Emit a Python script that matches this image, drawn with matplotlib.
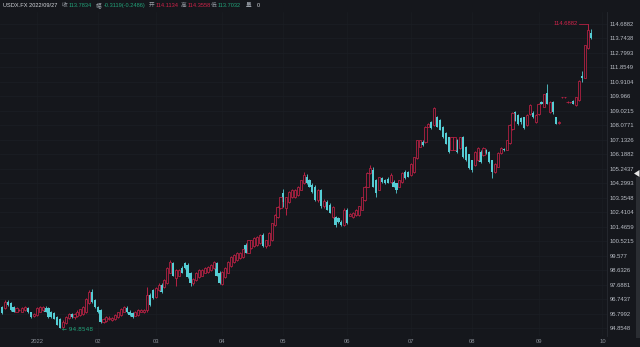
import numpy as np
import pandas as pd
import matplotlib
matplotlib.use("Agg")
import matplotlib.pyplot as plt
from matplotlib.patches import Polygon, Rectangle

W, H = 640, 347
BG = "#15171c"
RED = "#d0234a"
TEAL = "#55cdd4"
GREEN = "#22a47a"
GRID = "#1c1f25"

plt.rcParams["font.family"] = ["Liberation Sans", "Noto Sans CJK SC", "DejaVu Sans"]

# daily candles, 2021-12-16 .. 2022-09-27 (business days)
opens = [
    96.25, 96.20, 96.60, 96.50, 96.25, 95.95, 96.03, 95.95, 96.05, 96.20,
    95.90, 95.65, 95.75, 95.95, 96.05, 96.20, 96.20, 95.95, 95.85, 95.60,
    95.50, 94.95, 95.20, 95.55, 95.80, 95.60, 95.65, 95.75, 95.80, 95.95,
    96.50, 97.20, 96.70, 96.25, 96.05, 95.30, 95.35, 95.45, 95.40, 95.45,
    95.60, 95.75, 95.95, 96.20, 95.95, 95.85, 95.70, 95.75, 95.95, 95.90,
    96.05, 97.05, 97.35, 96.90, 97.35, 97.70, 97.55, 97.80, 98.50, 99.10,
    98.15, 98.30, 98.80, 99.10, 99.00, 98.50, 97.80, 98.00, 98.20, 98.30,
    98.50, 98.55, 98.65, 98.80, 99.10, 98.50, 97.75, 98.20, 98.50, 98.90,
    99.20, 99.30, 99.45, 99.50, 100.30, 99.80, 100.10, 100.20, 100.30, 100.40,
    100.95, 100.20, 100.30, 100.60, 101.60, 102.10, 102.70, 103.70, 102.70, 103.10,
    103.40, 103.40, 103.55, 103.90, 104.30, 104.70, 104.50, 104.20, 104.10, 103.20,
    103.85, 102.80, 103.10, 102.90, 102.10, 102.10, 102.05, 101.80, 101.60, 102.60,
    102.20, 102.10, 102.25, 102.25, 102.60, 103.20, 104.10, 105.00, 105.20, 104.50,
    103.90, 104.65, 104.50, 104.60, 104.40, 104.40, 104.30, 104.10, 104.40, 105.05,
    105.05, 104.85, 105.05, 105.95, 106.70, 107.00, 107.00, 108.00, 108.30, 108.10,
    108.60, 108.45, 108.00, 107.60, 107.30, 106.50, 106.50, 107.10, 106.60, 107.30,
    106.70, 106.20, 105.80, 105.50, 105.80, 106.35, 106.15, 106.50, 106.35, 105.80,
    105.05, 105.40, 106.30, 106.55, 106.50, 106.95, 107.85, 108.95, 108.75, 108.55,
    108.60, 108.10, 108.80, 108.90, 108.30, 108.80, 109.60, 109.30, 110.20, 108.95,
    109.60, 108.60, 108.25, 109.90, 109.90, 109.60, 109.60, 109.70, 109.40, 109.75,
    111.30, 111.20, 113.10, 114.1134,
]
highs = [
    96.35, 96.70, 96.70, 96.60, 96.30, 96.25, 96.12, 96.25, 96.30, 96.28,
    95.95, 95.85, 96.25, 96.30, 96.32, 96.30, 96.25, 96.00, 95.90, 95.65,
    95.55, 95.40, 95.65, 95.85, 95.85, 95.85, 96.05, 96.15, 96.30, 96.85,
    97.36, 97.40, 96.80, 96.35, 96.10, 95.55, 95.65, 95.65, 95.60, 95.80,
    95.95, 96.20, 96.35, 96.30, 96.05, 95.90, 96.00, 96.10, 96.10, 96.15,
    97.55, 97.15, 97.45, 97.55, 97.80, 97.80, 98.05, 98.85, 99.30, 99.20,
    98.70, 98.70, 98.90, 99.20, 99.10, 98.55, 98.15, 98.55, 98.70, 98.75,
    98.85, 98.95, 99.05, 99.25, 99.20, 98.60, 98.60, 98.85, 99.25, 99.55,
    99.70, 99.85, 99.85, 100.05, 100.40, 100.65, 100.65, 100.80, 100.85, 101.00,
    101.05, 100.65, 101.15, 101.75, 102.30, 102.80, 103.45, 103.95, 103.45, 103.80,
    103.95, 103.95, 104.15, 104.55, 105.05, 104.90, 104.60, 104.30, 104.20, 103.95,
    103.95, 103.30, 103.20, 103.00, 102.80, 102.20, 102.10, 101.90, 102.70, 102.70,
    102.35, 102.45, 102.65, 102.85, 103.45, 104.15, 105.05, 105.50, 105.40, 104.60,
    104.75, 104.75, 104.60, 104.70, 104.95, 104.50, 104.35, 104.55, 105.05, 105.15,
    105.10, 105.65, 106.05, 107.15, 107.15, 107.10, 108.05, 108.25, 108.40, 109.30,
    108.70, 108.50, 108.05, 107.65, 107.35, 107.35, 107.35, 107.20, 107.35, 107.40,
    106.75, 106.25, 105.85, 106.40, 106.65, 106.45, 106.65, 106.55, 106.40, 105.85,
    105.65, 106.35, 106.65, 106.60, 107.15, 108.15, 108.95, 109.05, 108.80, 108.65,
    108.65, 108.80, 109.50, 109.00, 108.80, 109.55, 109.65, 110.15, 110.80, 109.65,
    109.70, 108.65, 108.35, 109.95, 109.95, 109.65, 109.63, 109.75, 109.95, 111.05,
    111.60, 113.35, 114.6882, 114.3558,
]
lows = [
    95.80, 96.15, 96.35, 96.00, 95.90, 95.90, 95.98, 95.90, 96.00, 95.85,
    95.55, 95.60, 95.70, 95.90, 96.00, 95.90, 95.55, 95.55, 95.45, 95.05,
    94.8548, 94.90, 95.15, 95.50, 95.55, 95.50, 95.60, 95.70, 95.75, 95.85,
    96.45, 96.50, 96.20, 95.85, 95.20, 95.20, 95.30, 95.40, 95.35, 95.40,
    95.55, 95.70, 95.90, 95.85, 95.70, 95.55, 95.65, 95.70, 95.90, 95.85,
    95.95, 96.35, 96.80, 96.85, 97.30, 97.15, 97.50, 97.75, 98.45, 98.25,
    97.60, 98.25, 98.45, 98.75, 98.15, 97.65, 97.70, 97.95, 98.15, 98.25,
    98.45, 98.50, 98.60, 98.75, 98.25, 97.75, 97.70, 98.15, 98.45, 98.85,
    99.15, 99.25, 99.40, 99.45, 99.75, 99.75, 100.05, 100.15, 100.25, 100.35,
    100.15, 100.10, 100.25, 100.55, 101.55, 102.05, 102.65, 102.75, 102.25, 103.05,
    103.35, 103.35, 103.50, 103.85, 104.25, 104.25, 104.05, 103.70, 103.15, 103.10,
    102.70, 102.70, 102.55, 102.35, 102.05, 101.45, 101.75, 101.50, 101.55, 101.65,
    102.15, 102.05, 102.20, 102.20, 102.55, 103.15, 104.05, 104.90, 104.05, 103.40,
    103.85, 104.35, 104.25, 104.30, 104.35, 104.05, 103.70, 104.05, 104.35, 104.60,
    104.70, 104.80, 105.00, 105.90, 106.65, 106.75, 106.95, 107.95, 107.85, 108.05,
    107.95, 107.75, 107.25, 106.85, 106.30, 106.45, 106.45, 106.30, 106.55, 105.95,
    105.75, 105.25, 105.05, 105.45, 105.75, 105.65, 106.10, 106.25, 105.65, 104.65,
    105.00, 105.35, 106.25, 106.40, 106.45, 106.90, 107.80, 108.35, 108.10, 108.20,
    107.85, 108.05, 108.75, 108.55, 108.25, 108.75, 109.45, 109.25, 109.45, 108.90,
    108.80, 108.15, 108.20, 109.88, 109.88, 109.55, 109.57, 109.45, 109.35, 109.70,
    110.90, 111.15, 113.05, 113.7032,
]
closes = [
    95.85, 96.60, 96.40, 96.05, 95.95, 96.20, 96.07, 96.20, 96.25, 95.90,
    95.60, 95.80, 96.20, 96.25, 96.25, 95.95, 95.60, 95.60, 95.50, 95.10,
    94.90, 95.30, 95.60, 95.80, 95.60, 95.80, 95.95, 96.10, 96.25, 96.80,
    97.20, 96.55, 96.25, 95.90, 95.30, 95.45, 95.60, 95.55, 95.55, 95.75,
    95.90, 96.15, 96.25, 95.90, 95.75, 95.60, 95.90, 96.05, 96.05, 96.05,
    97.05, 96.40, 96.85, 97.50, 97.70, 97.20, 98.00, 98.80, 99.20, 98.30,
    98.65, 98.65, 98.50, 98.80, 98.20, 97.80, 98.10, 98.50, 98.65, 98.65,
    98.80, 98.85, 99.00, 99.20, 98.30, 97.80, 98.55, 98.80, 99.20, 99.50,
    99.65, 99.80, 99.80, 100.00, 99.80, 100.60, 100.60, 100.75, 100.80, 100.95,
    100.20, 100.60, 101.10, 101.70, 102.25, 102.75, 103.40, 103.10, 103.40, 103.75,
    103.90, 103.90, 104.10, 104.50, 104.85, 104.30, 104.10, 103.75, 103.20, 103.85,
    102.85, 103.15, 102.60, 102.40, 102.75, 101.60, 101.80, 101.60, 102.60, 101.70,
    102.28, 102.40, 102.60, 102.80, 103.40, 104.10, 105.00, 105.30, 104.10, 103.70,
    104.70, 104.40, 104.30, 104.35, 104.85, 104.10, 103.90, 104.50, 105.00, 104.65,
    104.75, 105.60, 106.00, 107.10, 107.10, 106.80, 108.00, 108.20, 107.90, 109.20,
    108.00, 107.80, 107.30, 106.90, 106.35, 107.30, 107.30, 106.35, 107.30, 106.00,
    105.80, 105.30, 105.20, 106.35, 106.60, 105.70, 106.60, 106.30, 105.70, 105.05,
    105.60, 106.30, 106.60, 106.45, 107.10, 108.10, 108.90, 108.40, 108.15, 108.30,
    107.90, 108.75, 109.40, 108.60, 108.75, 109.50, 109.50, 110.10, 109.50, 109.60,
    108.95, 108.20, 108.32, 109.93, 109.92, 109.62, 109.60, 109.50, 109.90, 111.00,
    111.15, 113.30, 114.30, 113.7834,
]

# header quote line (text, x pixel, colour)
header = [
    ("USDX.FX 2022/09/27", 3, "#d3d6db"),
    ("收", 62, "#9aa0a8"), ("113.7834", 69, GREEN),
    ("幅", 96, "#9aa0a8"), ("-0.3119(-0.2486)", 104, GREEN),
    ("开", 149, "#9aa0a8"), ("114.1134", 156, RED),
    ("高", 181, "#9aa0a8"), ("114.3558", 188, RED),
    ("低", 211, "#9aa0a8"), ("113.7032", 218, GREEN),
    ("量", 246, "#9aa0a8"), ("0", 257, "#d3d6db"),
]


def fmt(v):
    return f"{v:.4f}".rstrip("0").rstrip(".")


o, h, l, c = (np.array(a) for a in (opens, highs, lows, closes))
n = len(c)
x = np.arange(n)
dates = pd.bdate_range("2021-12-16", periods=n + 10)

fig = plt.figure(figsize=(W / 100, H / 100), dpi=100)
fig.patch.set_facecolor(BG)
ax = fig.add_axes([0, 11 / H, 607 / W, 324 / H])
ax.set_facecolor(BG)

up = c >= o
blo = np.minimum(o, c)
bhi = np.maximum(o, c)

# wicks (red ones stop at the hollow body)
ax.vlines(x[~up], l[~up], h[~up], color=TEAL, lw=0.6, zorder=2)
ax.vlines(x[up], bhi[up], h[up], color=RED, lw=0.6, zorder=2)
ax.vlines(x[up], l[up], blo[up], color=RED, lw=0.6, zorder=2)
ax.bar(x[~up], np.maximum(bhi - blo, 0.03)[~up], bottom=blo[~up], width=0.78,
       color=TEAL, lw=0, zorder=3)
ax.bar(x[up], (bhi - blo)[up], bottom=blo[up], width=0.74,
       facecolor=BG, edgecolor=RED, lw=0.5, zorder=3)

lo, hi = l.min(), h.max()
i_lo, i_hi = int(np.argmin(l)), int(np.argmax(h))
ax.text(i_lo + 0.7, lo - 0.05, "\u2190 " + fmt(lo), color=GREEN, fontsize=4.2,
        va="center", ha="left", family=["DejaVu Sans"])
ax.plot([i_hi - 3.2, i_hi], [hi, hi], color=RED, lw=0.5)
ax.text(i_hi - 3.4, hi, fmt(hi), color=RED, fontsize=4.2, va="center", ha="right")

ax.set_xlim(-0.69, 208.6)
ax.set_ylim(lo - 0.49, hi + 0.78)

yt = np.linspace(lo, hi, 22)
ax.yaxis.tick_right()
ax.set_yticks(yt)
ax.set_yticklabels([fmt(v) for v in yt])

months = pd.date_range("2022-01-01", "2022-10-01", freq="MS")
pos = [int(np.searchsorted(dates, m)) for m in months]
labels = ["2022"] + [m.strftime("%m") for m in months[1:]]
ax.set_xticks(pos)
ax.set_xticklabels(labels)
ax.get_xticklabels()[0].set_color("#c9973f")

ax.tick_params(axis="y", length=0, pad=2, labelsize=4.2, labelcolor="#b9bdc5")
ax.tick_params(axis="x", length=0, pad=2.5, labelsize=4.2, labelcolor="#8c9199")
for s in ("top", "left", "bottom"):
    ax.spines[s].set_visible(False)
ax.spines["right"].set_color("#272b31")
ax.spines["right"].set_linewidth(0.6)
ax.grid(True, axis="y", color=GRID, lw=0.5)
ax.grid(True, axis="x", color="#1a1d22", lw=0.5)
ax.set_axisbelow(True)

for text, px, col in header:
    fig.text(px / W, 1 - 5.5 / H, text, color=col, fontsize=4.1, va="center", ha="left")

fig.add_artist(Rectangle((636 / W, 9 / H), 4 / W, 161 / H, transform=fig.transFigure,
                         color="#2a2d32", lw=0))
fig.add_artist(Polygon([(634 / W, 1 - 173.5 / H), (639.5 / W, 1 - 170 / H), (639.5 / W, 1 - 177 / H)],
                       closed=True, color="#e6e6e6", lw=0, transform=fig.transFigure))

fig.savefig("out.png", dpi=100, facecolor=BG)
